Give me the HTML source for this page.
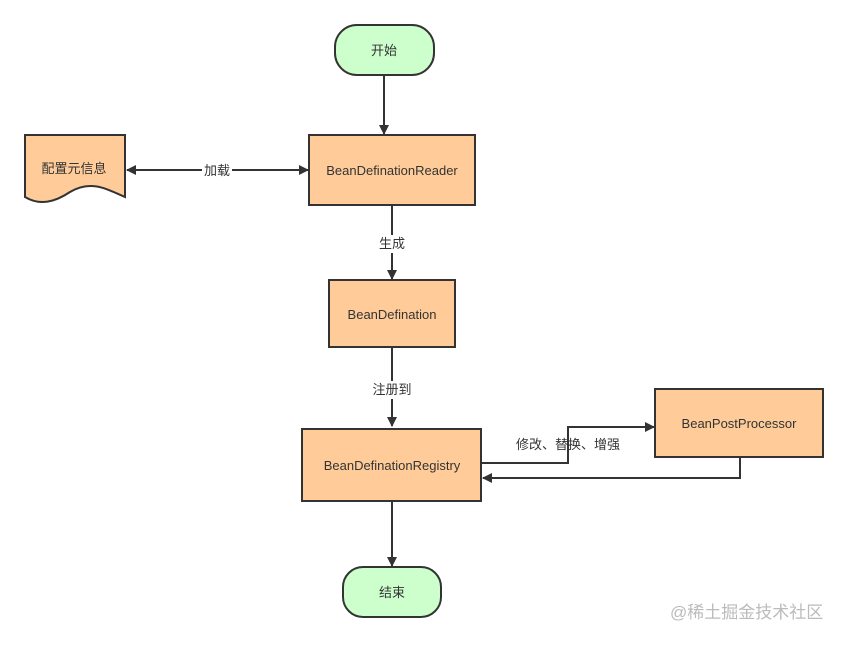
<!DOCTYPE html>
<html><head><meta charset="utf-8"><style>
body{margin:0;background:#fff}
svg text{font-family:"Liberation Sans","Noto Sans CJK SC",sans-serif;font-size:13px;fill:#333}
</style></head><body>
<svg width="849" height="643" viewBox="0 0 849 643" xmlns="http://www.w3.org/2000/svg">
<defs><marker id="a" markerWidth="10" markerHeight="10" refX="9" refY="5" orient="auto" markerUnits="userSpaceOnUse"><path d="M0,0 L10,5 L0,10 z" fill="#333"/></marker>
<marker id="b" markerWidth="10" markerHeight="10" refX="1" refY="5" orient="auto" markerUnits="userSpaceOnUse"><path d="M10,0 L0,5 L10,10 z" fill="#333"/></marker></defs>
<g stroke="#333" stroke-width="2" fill="none">
<line x1="384" y1="75" x2="384" y2="134" marker-end="url(#a)"/>
<line x1="127" y1="170" x2="308" y2="170" marker-start="url(#b)" marker-end="url(#a)"/>
<line x1="392" y1="205" x2="392" y2="279" marker-end="url(#a)"/>
<line x1="392" y1="347" x2="392" y2="426" marker-end="url(#a)"/>
<polyline points="481,463 568,463 568,427 654,427" marker-end="url(#a)"/>
<polyline points="740,457 740,478 483,478" marker-end="url(#a)"/>
<line x1="392" y1="501" x2="392" y2="566" marker-end="url(#a)"/>
</g>
<g stroke="#333" stroke-width="2" fill="#ffcc99">
<rect x="335" y="25" width="99" height="50" rx="22" fill="#ccffcc"/>
<rect x="309" y="135" width="166" height="70"/>
<path d="M25,135 H125 V197 C105,188 90,180 70,192 C55,202 40,206 25,197 Z"/>
<rect x="329" y="280" width="126" height="67"/>
<rect x="302" y="429" width="179" height="72"/>
<rect x="655" y="389" width="168" height="68"/>
<rect x="343" y="567" width="98" height="50" rx="20" fill="#ccffcc"/>
</g>
<rect x="202" y="161" width="30" height="18" fill="#fff"/>
<rect x="377" y="235" width="30" height="18" fill="#fff"/>
<rect x="368" y="381" width="48" height="18" fill="#fff"/>
<g text-anchor="middle">
<text x="384" y="55">开始</text>
<text x="392" y="175">BeanDefinationReader</text>
<text x="74" y="173">配置元信息</text>
<text x="217" y="175">加载</text>
<text x="392" y="248">生成</text>
<text x="392" y="319">BeanDefination</text>
<text x="392" y="394">注册到</text>
<text x="392" y="470">BeanDefinationRegistry</text>
<text x="568" y="449">修改、替换、增强</text>
<text x="739" y="428">BeanPostProcessor</text>
<text x="392" y="597">结束</text>
</g>
<text x="670" y="618" style="font-size:17px;fill:#bbb">@稀土掘金技术社区</text>
</svg>
</body></html>
